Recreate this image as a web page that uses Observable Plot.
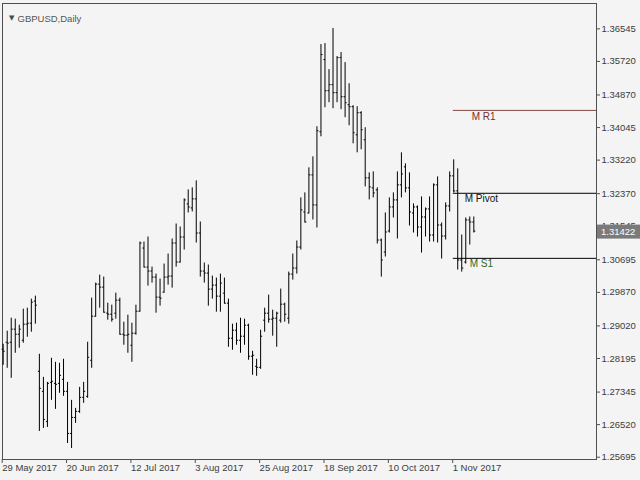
<!DOCTYPE html>
<html><head><meta charset="utf-8">
<script src="https://cdn.jsdelivr.net/npm/d3@7"></script>
<script src="https://cdn.jsdelivr.net/npm/@observablehq/plot@0.6"></script>
<style>
html,body{margin:0;padding:0;background:#f4f4f4;overflow:hidden;}
</style>
</head><body>
<div id="chart"></div>
<script>
const symbolTitle = "GBPUSD,Daily";
const opens = [1.28430,1.28607,1.28607,1.28938,1.28810,1.28658,1.29064,1.29090,1.29648,1.27871,
1.27364,1.26602,1.27591,1.27566,1.27566,1.27668,1.27364,1.26297,1.26703,1.26856,
1.27211,1.27237,1.28150,1.29267,1.30079,1.30003,1.29343,1.29318,1.29343,1.29673,
1.28810,1.28785,1.28531,1.28836,1.29394,1.30993,1.30511,1.30410,1.30257,1.29749,
1.29876,1.30257,1.30283,1.31120,1.30638,1.31272,1.32110,1.32009,1.32238,1.31374,
1.30410,1.30359,1.29953,1.30054,1.29775,1.29851,1.29597,1.28709,1.28912,1.28658,
1.28760,1.29039,1.28252,1.27998,1.27972,1.29166,1.29343,1.29191,1.29216,1.29166,
1.29571,1.29216,1.30333,1.30486,1.31018,1.31907,1.31882,1.32846,1.32085,1.33938,
1.35766,1.34979,1.35131,1.34928,1.35817,1.34826,1.34623,1.34573,1.33862,1.34421,
1.33735,1.32770,1.32517,1.32466,1.31196,1.30892,1.31425,1.32034,1.32212,1.32593,
1.33049,1.32517,1.31882,1.32034,1.31526,1.31780,1.31984,1.31323,1.32593,1.31577,
1.31298,1.32060,1.32821,1.32441,1.30689,1.30638,1.31704,1.31653];
const highs = [1.28556,1.28887,1.29216,1.29191,1.29039,1.29445,1.29470,1.29699,1.29775,1.28302,
1.27718,1.27591,1.28201,1.28099,1.28074,1.28176,1.27591,1.27135,1.26932,1.27464,
1.27591,1.28607,1.29724,1.30105,1.30308,1.30257,1.29597,1.29546,1.29851,1.29724,
1.29115,1.29292,1.29090,1.29546,1.31145,1.31145,1.31272,1.30511,1.30333,1.30207,
1.30587,1.30841,1.31222,1.31602,1.31526,1.32238,1.32466,1.32517,1.32695,1.31653,
1.30613,1.30562,1.30283,1.30232,1.30333,1.30232,1.29699,1.29064,1.29090,1.29216,
1.29191,1.29064,1.28379,1.28176,1.28912,1.29470,1.29800,1.29419,1.29368,1.29953,
1.29597,1.30384,1.30841,1.31171,1.32263,1.32390,1.33024,1.33303,1.34065,1.36147,
1.36172,1.35512,1.36553,1.35842,1.35944,1.35690,1.35156,1.34598,1.34573,1.34446,
1.34040,1.32897,1.32922,1.32517,1.31222,1.31882,1.32263,1.32390,1.32922,1.33405,
1.33125,1.32897,1.32110,1.32060,1.32288,1.32009,1.32288,1.32618,1.32795,1.31628,
1.32136,1.32922,1.33227,1.32999,1.31323,1.31755,1.31780,1.31780];
const lows = [1.28023,1.27947,1.27693,1.28328,1.28455,1.28582,1.28734,1.28861,1.29064,1.26348,
1.26424,1.26449,1.27135,1.26907,1.27313,1.27237,1.26043,1.25916,1.26551,1.26805,
1.27059,1.27186,1.27947,1.29242,1.29470,1.29343,1.29166,1.29115,1.29191,1.28785,
1.28531,1.28328,1.28099,1.28785,1.29368,1.30486,1.30029,1.30105,1.29343,1.29521,
1.29851,1.30054,1.29978,1.30511,1.30613,1.30943,1.31882,1.31907,1.31120,1.30257,
1.30105,1.29521,1.29699,1.29368,1.29368,1.29571,1.28480,1.28404,1.28531,1.28328,
1.28531,1.28150,1.27769,1.27744,1.27922,1.28861,1.29090,1.28760,1.28480,1.29090,
1.29115,1.29064,1.30181,1.30333,1.30943,1.31628,1.31856,1.31704,1.31501,1.33811,
1.34547,1.34674,1.34522,1.34674,1.34497,1.34294,1.34091,1.33633,1.33405,1.33481,
1.32542,1.32212,1.32263,1.31094,1.30257,1.30765,1.31374,1.31755,1.31222,1.32263,
1.32390,1.31552,1.31374,1.31272,1.30867,1.31272,1.31145,1.31145,1.31120,1.30715,
1.31196,1.31907,1.32390,1.30435,1.30384,1.30587,1.31069,1.31374];
const closes = [1.28379,1.28582,1.28938,1.28810,1.28938,1.29064,1.29090,1.29622,1.29546,1.27439,
1.26653,1.27566,1.27617,1.27541,1.27769,1.27364,1.26297,1.26703,1.26856,1.27211,
1.27364,1.28226,1.29267,1.30079,1.30003,1.29368,1.29318,1.29191,1.29673,1.28810,
1.28785,1.28810,1.28836,1.29394,1.31120,1.30511,1.30410,1.30257,1.29749,1.29724,
1.30257,1.30283,1.31120,1.30638,1.31272,1.32212,1.32034,1.32238,1.31374,1.30410,
1.30359,1.29953,1.30054,1.29775,1.30105,1.29597,1.28709,1.28912,1.28658,1.28760,
1.29039,1.28252,1.28277,1.27972,1.28760,1.29343,1.29191,1.29216,1.29343,1.29571,
1.29318,1.30333,1.30486,1.31018,1.31958,1.31653,1.32846,1.32085,1.33964,1.35893,
1.34979,1.35131,1.34928,1.35817,1.34826,1.34674,1.34573,1.33913,1.34421,1.33989,
1.32770,1.32542,1.32390,1.31196,1.30689,1.31399,1.32034,1.32212,1.32593,1.32871,
1.32517,1.31907,1.32034,1.31526,1.31780,1.31984,1.31323,1.32593,1.31577,1.31298,
1.32060,1.32821,1.32441,1.30689,1.30486,1.31704,1.31653,1.31422];
const dateTickIndex = [0,16,32,48,64,80,96,112];
const dateTickLabels = ["29 May 2017","20 Jun 2017","12 Jul 2017","3 Aug 2017","25 Aug 2017","18 Sep 2017","10 Oct 2017","1 Nov 2017"];
const priceTicks = [1.36545,1.35720,1.34870,1.34045,1.33220,1.32370,1.31545,1.30695,1.29870,1.29020,1.28195,1.27345,1.26520,1.25695];
const levelNames = ["M R1","M Pivot","M S1"];
const levelValues = [1.34479,1.32380,1.30732];
const levelStartIndex = 112;

const bars = opens.map((o, i) => ({i, open: o, high: highs[i], low: lows[i], close: closes[i]}));
const levels = levelNames.map((name, k) => ({name, value: levelValues[k]}));
const lastBar = bars[bars.length - 1];
const xDomain = [-0.17, 147.5];
const yDomain = [1.25637, 1.37187];
const levelStyle = {
  "M R1":   {line: "#8a4a48", text: "#7a2c2c", dx: 18},
  "M Pivot":{line: "#000000", text: "#111111", dx: 11},
  "M S1":   {line: "#000000", text: "#2b6b2b", dx: 16}
};

const levelMarks = levels.flatMap(l => [
  Plot.ruleY([l], {y: "value", x1: levelStartIndex - 0.1, x2: xDomain[1], stroke: levelStyle[l.name].line, strokeWidth: 1}),
  Plot.text([l], {x: levelStartIndex, y: "value", text: "name", fill: levelStyle[l.name].text,
    textAnchor: "start", lineAnchor: "top", dx: levelStyle[l.name].dx, dy: 2,
    fontSize: 10, fontFamily: "'Liberation Sans', Arial, sans-serif"})
]);

const chart = Plot.plot({
  width: 640, height: 480,
  marginLeft: 2, marginTop: 3, marginRight: 44, marginBottom: 21,
  style: {background: "#f4f4f4", fontFamily: "'Liberation Sans', Arial, sans-serif", fontSize: "9.5px", color: "#3c3c3c", overflow: "visible"},
  x: {domain: xDomain},
  y: {domain: yDomain},
  marks: [
    Plot.frame({stroke: "#505050"}),
    Plot.axisX({ticks: dateTickIndex, tickFormat: d => dateTickLabels[dateTickIndex.indexOf(d)],
      tickSize: 4, tickPadding: 1, textAnchor: "start", dx: -1, label: null, stroke: "#505050"}),
    Plot.axisY({anchor: "right", ticks: priceTicks, tickFormat: d => d.toFixed(5),
      tickSize: 3, tickPadding: 2, label: null, stroke: "#505050"}),
    Plot.ruleX(bars, {x: "i", y1: "low", y2: "high", stroke: "#000"}),
    Plot.link(bars, {x1: d => d.i - 0.38, x2: "i", y1: "open", y2: "open", stroke: "#000"}),
    Plot.link(bars, {x1: "i", x2: d => d.i + 0.38, y1: "close", y2: "close", stroke: "#000"}),
    ...levelMarks,
    Plot.text(["\u25BC"], {frameAnchor: "top-left", dx: 6.5, dy: 11.5, fontSize: 7, fill: "#4a4a4a",
      fontFamily: "'DejaVu Sans', sans-serif"}),
    Plot.text([symbolTitle], {frameAnchor: "top-left", dx: 15, dy: 12, textAnchor: "start", fill: "#555"})
  ]
});
document.getElementById("chart").appendChild(chart);

// current price marker on the price axis, placed through the chart's own scales
const svg = d3.select(chart);
const yc = chart.scale("y").apply(lastBar.close);
const xr = chart.scale("x").apply(xDomain[1]);
const g = svg.append("g");
g.append("rect").attr("x", xr + 1).attr("y", yc - 6).attr("width", 640 - xr - 1).attr("height", 14).attr("fill", "#7a7a7a");
g.append("text").attr("x", xr + 5).attr("y", yc + 1).attr("dy", "0.35em")
  .attr("text-anchor", "start")
  .attr("fill", "#ffffff").attr("font-size", "9.5px")
  .text(lastBar.close.toFixed(5));
</script>
</body></html>
